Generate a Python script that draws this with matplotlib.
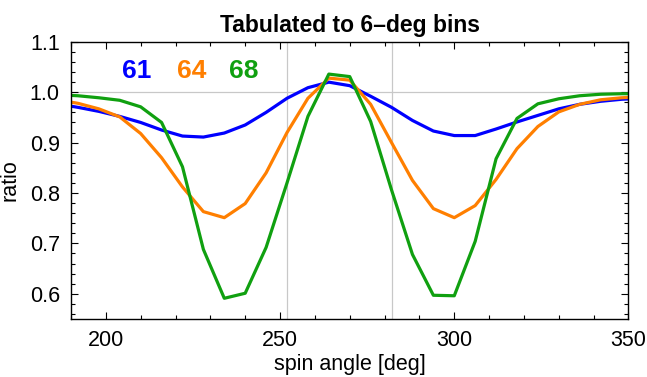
import matplotlib.pyplot as plt
from matplotlib.ticker import MultipleLocator

# bin centres [deg]
spin_angle = [186, 192, 198, 204, 210, 216, 222, 228, 234, 240, 246, 252, 258, 264, 270,
              276, 282, 288, 294, 300, 306, 312, 318, 324, 330, 336, 342, 348, 354]

ratio_61 = [0.977, 0.970, 0.962, 0.952, 0.940, 0.925, 0.913, 0.911, 0.919, 0.935, 0.960, 0.988,
            1.009, 1.020, 1.013, 0.992, 0.970, 0.944, 0.923, 0.914, 0.914, 0.927, 0.941, 0.954,
            0.967, 0.976, 0.982, 0.986, 0.988]
ratio_64 = [0.985, 0.978, 0.967, 0.951, 0.918, 0.870, 0.812, 0.763, 0.751, 0.779, 0.840, 0.920,
            0.988, 1.028, 1.024, 0.976, 0.900, 0.825, 0.769, 0.751, 0.775, 0.827, 0.888, 0.932,
            0.961, 0.976, 0.985, 0.989, 0.991]
ratio_68 = [0.995, 0.993, 0.989, 0.984, 0.971, 0.940, 0.852, 0.688, 0.591, 0.601, 0.692, 0.820,
            0.952, 1.036, 1.031, 0.942, 0.806, 0.678, 0.597, 0.596, 0.704, 0.868, 0.948, 0.977,
            0.987, 0.993, 0.996, 0.997, 0.997]

labels = ["61", "64", "68"]
label_x = [209, 224.6, 239.5]
colors = ["#0000ff", "#ff7f00", "#10a010"]
grid_x = [252, 282]

plt.rcParams["font.family"] = ["Liberation Sans", "DejaVu Sans"]

fig = plt.figure(figsize=(6.47, 3.77), dpi=100)
ax = fig.add_axes([0.1097, 0.154, 0.8617, 0.735])

for gx in grid_x:
    ax.axvline(gx, color="#c8c8c8", lw=0.9, zorder=0)
ax.axhline(1.0, color="#c8c8c8", lw=0.9, zorder=0)

for ys, c in zip([ratio_61, ratio_64, ratio_68], colors):
    ax.plot(spin_angle, ys, color=c, lw=2.3)

for lab, lx, c in zip(labels, label_x, colors):
    ax.text(lx, 1.042, lab, color=c, fontsize=19, fontweight="bold",
            ha="center", va="center")

ax.set_xlim(190, 350)
ax.set_ylim(0.55, 1.1)
ax.xaxis.set_major_locator(MultipleLocator(50))
ax.xaxis.set_minor_locator(MultipleLocator(10))
ax.yaxis.set_major_locator(MultipleLocator(0.1))
ax.yaxis.set_minor_locator(MultipleLocator(0.02))
ax.tick_params(which="both", direction="in", top=True, right=True, labelsize=15.5,
               width=0.8, color="black")
ax.tick_params(which="major", length=5, pad=8)
ax.tick_params(which="minor", length=3)
for s in ax.spines.values():
    s.set_linewidth(1.0)

ax.set_title("Tabulated to 6\u2013deg bins", fontsize=16.5, fontweight="bold", pad=7)
ax.set_xlabel("spin angle [deg]", fontsize=15.5, labelpad=2)
ax.set_ylabel("ratio", fontsize=15.5, labelpad=7)

fig.savefig("out.png", dpi=100)
